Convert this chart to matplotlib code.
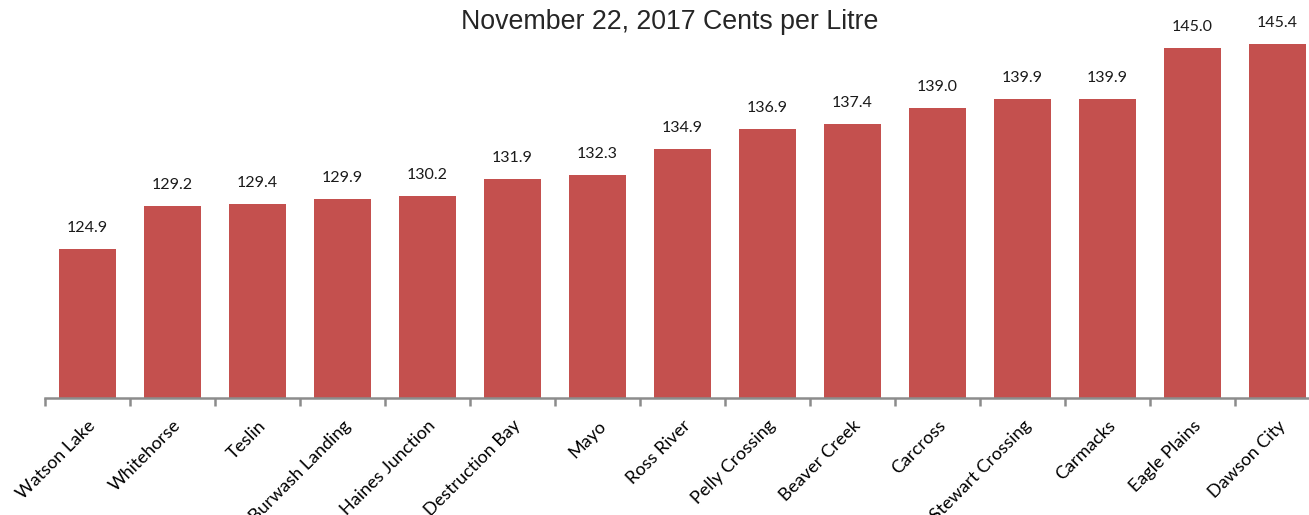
import matplotlib
matplotlib.use("Agg")
import matplotlib.pyplot as plt
import numpy as np

# Data
towns = ["Watson Lake", "Whitehorse", "Teslin", "Burwash Landing", "Haines Junction",
         "Destruction Bay", "Mayo", "Ross River", "Pelly Crossing", "Beaver Creek",
         "Carcross", "Stewart Crossing", "Carmacks", "Eagle Plains", "Dawson City"]
prices = [124.9, 129.2, 129.4, 129.9, 130.2, 131.9, 132.3, 134.9, 136.9, 137.4,
          139.0, 139.9, 139.9, 145.0, 145.4]

bar_color = "#C4504E"
axis_color = "#8C8C8C"
label_font = ["Lato", "DejaVu Sans"]

fig = plt.figure(figsize=(13.09, 5.15), dpi=100)
W, H = 1309, 515
# axes spans from x=45 to x=1320 px, y=0 to 398 px (extends past the right edge)
ax = fig.add_axes([45 / W, (H - 398) / H, 1275 / W, 398 / H])

x = np.arange(len(towns))
ax.bar(x, prices, width=0.67, color=bar_color, bottom=0, zorder=2)
ax.set_xlim(-0.5, len(towns) - 0.5)
ax.set_ylim(110, 149.8)

for xi, v in zip(x, prices):
    ax.text(xi, v + 1.4, f"{v:.1f}", ha="center", va="bottom", fontsize=11.5,
            family=label_font, color="#1a1a1a")

for s in ["top", "right", "left"]:
    ax.spines[s].set_visible(False)
ax.spines["bottom"].set_color(axis_color)
ax.spines["bottom"].set_linewidth(1.8)
ax.set_yticks([])

ax.set_xticks(x)
ax.set_xticklabels(towns, rotation=45, ha="right", va="top", rotation_mode="anchor",
                   fontsize=13, family=label_font)
ax.tick_params(axis="x", which="major", length=0, pad=14)
ax.set_xticks(np.arange(-0.5, len(towns) + 0.5, 1), minor=True)
ax.tick_params(axis="x", which="minor", length=6, width=1.8, color=axis_color)

fig.text(670 / W, 1 - 22 / H, "November 22, 2017 Cents per Litre", ha="center", va="center",
         fontsize=19.3, family="Liberation Sans", color="#262626")

plt.savefig("out.png", dpi=100)
